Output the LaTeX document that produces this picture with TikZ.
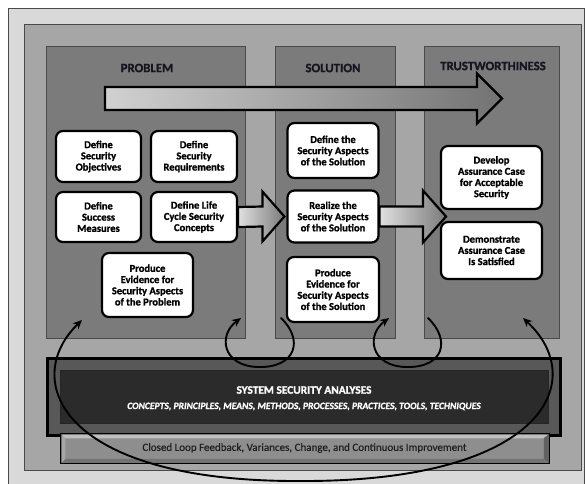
\documentclass[tikz,border=0pt]{standalone}
\usepackage{fontspec}
\setmainfont{Carlito}
\newfontfamily\heavy{Carlito}[BoldFeatures={FakeBold=1.2}, BoldItalicFeatures={FakeBold=1}, UprightFeatures={FakeBold=0.4}]
\usetikzlibrary{arrows.meta,calc}
\definecolor{outerbg}{HTML}{D9D9D9}
\definecolor{innerbg}{HTML}{A6A6A6}
\definecolor{colbg}{HTML}{7B7B7B}
\definecolor{framedark}{HTML}{4A4A4A}
\definecolor{headink}{HTML}{161620}
\definecolor{bandouter}{HTML}{585858}
\definecolor{bandinner}{HTML}{2B2B2B}
\definecolor{loopband}{HTML}{8E8E8E}
\begin{document}
\begin{tikzpicture}[x=1pt,y=-1pt,
  >={Stealth[length=9, width=8]},
  column/.style={draw=framedark, line width=0.7, fill=colbg, inner sep=0},
  head/.style={text=headink, font=\heavy\bfseries\fontsize{12.8}{14}\selectfont, inner sep=0},
  box/.style={draw=black, line width=2.2, rounded corners=7, fill=white, align=center,
    inner sep=0, font=\heavy\bfseries\fontsize{10.5}{11.2}\selectfont},
  fatarrow/.style={draw=black, line width=2.2, line join=miter},
  loopline/.style={draw=black, line width=1.9, line cap=round}
]
\useasboundingbox (0,0) rectangle (585,483);
\clip (0,0) rectangle (585,483);

% frames
\path[fill=outerbg, draw=framedark, line width=0.8] (8,8) rectangle (584,495);
\path[fill=innerbg, draw=framedark, line width=0.8] (24,24) rectangle (581,470);

% columns
\node[column, minimum width=199, minimum height=292] (colP) at (145.5,192) {};
\node[column, minimum width=120, minimum height=292] (colS) at (335,192) {};
\node[column, minimum width=135, minimum height=292] (colT) at (491.5,192) {};

\node[head] (hP) at (147,68) {PROBLEM};
\node[head] (hS) at (333,68) {SOLUTION};
\node[head] (hT) at (493,66) {TRUSTWORTHINESS};

% overall flow arrow
\coordinate (baS) at (105,98.5);
\coordinate (baT) at (502,98.5);
\path[fatarrow, left color=black!18, right color=black!55]
  ($(baS)+(0,-11.5)$) -- ($(baT)+(-25,-11.5)$) -- ($(baT)+(-25,-25)$) -- (baT)
  -- ($(baT)+(-25,25)$) -- ($(baT)+(-25,11.5)$) -- ($(baS)+(0,11.5)$) -- cycle;

% problem boxes
\node[box, minimum width=85, minimum height=51] (obj) at (98.5,156.5) {Define\\Security\\Objectives};
\node[box, minimum width=86, minimum height=51] (req) at (194,156.5) {Define\\Security\\Requirements};
\node[box, minimum width=85, minimum height=50] (suc) at (98.5,217) {Define\\Success\\Measures};
\node[box, minimum width=86, minimum height=50] (lcc) at (194,217) {Define Life\\Cycle Security\\Concepts};
\node[box, minimum width=91, minimum height=64] (pep) at (147.5,285) {Produce\\Evidence for\\Security Aspects\\of the Problem};

% solution boxes
\node[box, minimum width=91, minimum height=55] (dsa) at (333,150.5) {Define the\\Security Aspects\\of the Solution};
\node[box, minimum width=91, minimum height=52] (rsa) at (333,216.5) {Realize the\\Security Aspects\\of the Solution};
\node[box, minimum width=92, minimum height=65] (pes) at (333,289.5) {Produce\\Evidence for\\Security Aspects\\of the Solution};

% trustworthiness boxes
\node[box, minimum width=101, minimum height=63] (dac) at (491.5,177.5) {Develop\\Assurance Case\\for Acceptable\\Security};
\node[box, minimum width=101, minimum height=57] (das) at (491.5,250.5) {Demonstrate\\Assurance Case\\Is Satisfied};

% block arrows between the stages
\coordinate (t1) at ($(rsa.west)+(-2,0)$);
\path[fatarrow, left color=black!12, right color=black!52]
  ($(lcc.east)+(0,-10)$) -- ($(t1)+(-22,-10)$) -- ($(t1)+(-22,-25)$) -- (t1)
  -- ($(t1)+(-22,25)$) -- ($(t1)+(-22,10)$) -- ($(lcc.east)+(0,10)$) -- cycle;
\coordinate (t2) at (446,216.5);
\path[fatarrow, left color=black!12, right color=black!52]
  ($(rsa.east)+(0,-10)$) -- ($(t2)+(-23,-10)$) -- ($(t2)+(-23,-26)$) -- (t2)
  -- ($(t2)+(-23,26)$) -- ($(t2)+(-23,10)$) -- ($(rsa.east)+(0,10)$) -- cycle;

% system security analyses band
\node[draw=black, line width=3, fill=bandouter, minimum width=513, minimum height=77, inner sep=0] (ssaOut) at (303.5,396.5) {};
\node[draw=black!85, line width=0.8, fill=bandinner, minimum width=488, minimum height=53, inner sep=0] (ssaIn) at (304,396.5) {};
\node[text=white, font=\heavy\bfseries\fontsize{11.4}{13}\selectfont, inner sep=0] (ssaT) at (304,390) {SYSTEM SECURITY ANALYSES};
\node[text=white, font=\heavy\bfseries\itshape\fontsize{9.6}{10}\selectfont, inner sep=0] (ssaS) at (304,406.5) {CONCEPTS, PRINCIPLES, MEANS, METHODS, PROCESSES, PRACTICES, TOOLS, TECHNIQUES};

% feedback band with bevel
\node[draw=black, line width=1.5, fill=loopband, minimum width=488, minimum height=29, inner sep=0] (clf) at (305,448.5) {};
\fill[black!25] ($(clf.north west)+(1,1)$) -- ($(clf.north east)+(-1,1)$) -- ($(clf.north east)+(-6,5)$) -- ($(clf.north west)+(5,5)$) -- cycle;
\fill[black!62] ($(clf.north east)+(-1,1)$) -- ($(clf.south east)+(-1,-1)$) -- ($(clf.south east)+(-6,-5)$) -- ($(clf.north east)+(-6,5)$) -- cycle;
\fill[black!55] ($(clf.south west)+(1,-1)$) -- ($(clf.south east)+(-1,-1)$) -- ($(clf.south east)+(-6,-5)$) -- ($(clf.south west)+(5,-5)$) -- cycle;
\fill[black!35] ($(clf.north west)+(1,1)$) -- ($(clf.north west)+(5,5)$) -- ($(clf.south west)+(5,-5)$) -- ($(clf.south west)+(1,-1)$) -- cycle;
\node[text=black!88, font=\heavy\fontsize{11}{12}\selectfont, inner sep=0] (clfT) at (304.5,448) {Closed Loop Feedback, Variances, Change, and Continuous Improvement};

% feedback loops
\coordinate (bigA) at (82,320);
\coordinate (bigBot) at (300,481);
\coordinate (bigB) at (523,318);
\draw[loopline, <->] (bigA) .. controls (20,380) and (60,482) .. (bigBot)
  .. controls (545,482) and (590,380) .. (bigB);

\coordinate (l1a) at (281,318);
\coordinate (l1m) at (258,367);
\coordinate (l1b) at (241,318);
\draw[loopline, ->] (l1a) .. controls (304,340) and (296,368) .. (l1m)
  .. controls (222,366) and (218,335) .. (l1b);

\coordinate (l2a) at (428,318);
\coordinate (l2m) at (406,367);
\coordinate (l2b) at (389,318);
\draw[loopline, ->] (l2a) .. controls (451,340) and (444,368) .. (l2m)
  .. controls (370,366) and (366,335) .. (l2b);
\end{tikzpicture}
\end{document}
